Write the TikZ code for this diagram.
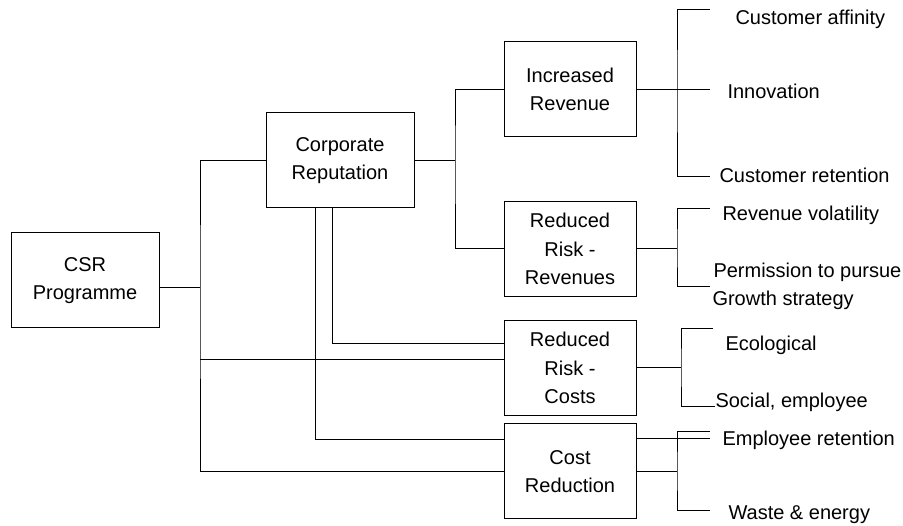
\documentclass[tikz,border=0pt]{standalone}
\usepackage{fontspec}
\setmainfont{Liberation Sans}
\usetikzlibrary{positioning,calc}

\begin{document}
\begin{tikzpicture}[x=1pt, y=-1pt, line width=1pt,
    box/.style={draw, minimum width=132pt, minimum height=95pt, align=center,
      inner sep=0pt, font=\fontsize{20}{28.5}\selectfont},
    widebox/.style={box, minimum width=148pt},
    leaf/.style={anchor=base west, inner sep=0pt, font=\fontsize{20}{24}\selectfont}]
  \useasboundingbox (0,0) rectangle (903,526);

  % Main boxes
  \node[widebox] (csr) at (85,280.5) {CSR\\Programme};
  \node[widebox] (corp) at (340,160.5) {Corporate\\Reputation};
  \node[box] (ir) at (570,89.5) {Increased\\Revenue};
  \node[box] (rrr) at (570,249) {Reduced\\Risk -\\Revenues};
  \node[box] (rrc) at (570,368) {Reduced\\Risk -\\Costs};
  \node[box] (cr) at (570,471.5) {Cost\\Reduction};

  % Leaves
  \node[leaf] (affinity) at (735,25) {Customer affinity};
  \node[leaf] (innov) at (727,99) {Innovation};
  \node[leaf] (retain) at (719,183) {Customer retention};
  \node[leaf] (volat) at (722,221) {Revenue volatility};
  \node[leaf] (perm) at (713,278) {Permission to pursue};
  \node[leaf] (growth) at (712,306) {Growth strategy};
  \node[leaf] (eco) at (725,351) {Ecological};
  \node[leaf] (social) at (715,408) {Social, employee};
  \node[leaf] (empret) at (722,446) {Employee retention};
  \node[leaf] (waste) at (728,520) {Waste \& energy};

  % Bracket ends
  \coordinate (c-affinity) at (710,10);
  \coordinate (c-innov) at (710,89.5);
  \coordinate (c-retain) at (710,177);
  \coordinate (c-volat) at (710,209);
  \coordinate (c-perm) at (710,287);
  \coordinate (c-eco) at (713,329);
  \coordinate (c-social) at (social.west |- 0,407);
  \coordinate (c-empret) at (710,432);
  \coordinate (c-emp2) at (710,439);
  \coordinate (c-waste) at (710,511);

  % Trunk from CSR programme
  \coordinate (trunk) at (200,288);
  \draw (csr.east |- trunk) -- (trunk);
  \draw (corp.west) -| (trunk) |- (cr.west);
  \draw (trunk |- 0,359.5) -- (rrc.west |- 0,359.5);

  % Links from corporate reputation
  \coordinate (split) at (455,160.5);
  \draw (corp.east) -- (split);
  \draw (ir.west) -| (split) |- (rrr.west);
  \draw (corp.south -| 332,0) |- (rrc.west |- 0,344);
  \draw (corp.south -| 315,0) |- (cr.west |- 0,439.5);

  % Right brackets
  \draw (ir.east) -- (c-innov);
  \draw (c-affinity) -| (677,89.5) |- (c-retain);
  \draw (rrr.east) -- (677,249);
  \draw (c-volat) -| (677,249) |- (c-perm);
  \draw (rrc.east) -- (681,368);
  \draw (c-eco) -| (681,368) |- (c-social);
  \draw (cr.east |- c-emp2) -- (c-emp2);
  \draw (cr.east) -- (677,471.5);
  \draw (c-empret) -| (677,471.5) |- (c-waste);
\end{tikzpicture}
\end{document}
